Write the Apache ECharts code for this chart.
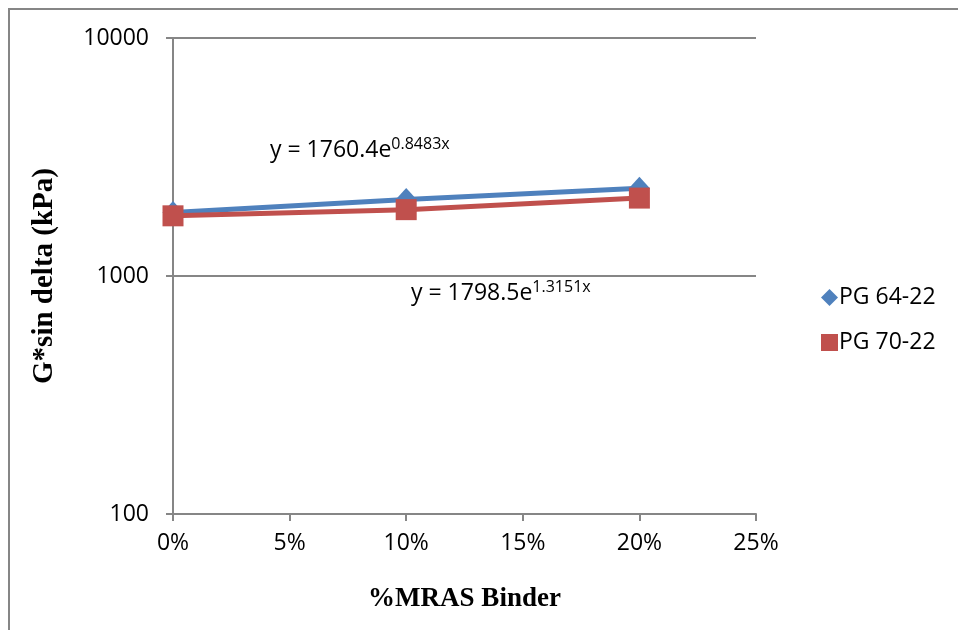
<!DOCTYPE html>
<html>
<head>
<meta charset="utf-8">
<script src="https://cdn.jsdelivr.net/npm/echarts@6/dist/echarts.min.js"></script>
<style>
  html, body { margin: 0; padding: 0; background: #fff; }
  #chart { width: 958px; height: 630px; }
</style>
</head>
<body>
<div id="chart"></div>
<script>
// %MRAS binder content (fraction) and G*sin delta values
const mrasShare = [0, 0.1, 0.2];
const pg6422 = [1850, 2095, 2335];
const pg7022 = [1790, 1900, 2125];
const seriesNames = ['PG 64-22', 'PG 70-22'];
const fitLabels = [
    {base: 'y = 1760.4e', exp: '0.8483x'},
    {base: 'y = 1798.5e', exp: '1.3151x'}
];

const gray = '#868686';
const labelFont = '"Open Sans", "Liberation Sans", sans-serif';
const titleFont = '"Liberation Serif", "DejaVu Serif", serif';

let myChart = echarts.init(document.getElementById('chart'));
myChart.setOption({
    animation: false,
    backgroundColor: '#fff',
    grid: {left: 173, right: 202, top: 38, bottom: 116},
    legend: {
        orient: 'vertical',
        left: 816,
        top: 281,
        itemGap: 22,
        itemWidth: 17,
        itemHeight: 17,
        textStyle: {fontFamily: labelFont, fontSize: 23, color: '#000', padding: [0, 0, 0, -4]},
        data: [
            {name: seriesNames[0], icon: 'diamond'},
            {name: seriesNames[1], icon: 'rect'}
        ]
    },
    xAxis: {
        type: 'value',
        min: 0,
        max: 0.25,
        interval: 0.05,
        name: '%MRAS Binder',
        nameLocation: 'middle',
        nameGap: 72,
        nameTextStyle: {fontFamily: titleFont, fontWeight: 'bold', fontSize: 27, color: '#000'},
        axisLine: {lineStyle: {color: gray, width: 2}},
        axisTick: {show: true, length: 7, lineStyle: {color: gray, width: 2}},
        axisLabel: {
            margin: 18,
            fontFamily: labelFont,
            fontSize: 23,
            color: '#000',
            formatter: function (v) { return Math.round(v * 100) + '%'; }
        },
        splitLine: {show: false}
    },
    yAxis: {
        type: 'log',
        logBase: 10,
        min: 100,
        max: 10000,
        name: 'G*sin delta (kPa)',
        nameLocation: 'middle',
        nameGap: 114,
        nameTextStyle: {fontFamily: titleFont, fontWeight: 'bold', fontSize: 29, color: '#000'},
        axisLine: {show: true, lineStyle: {color: gray, width: 2}},
        axisTick: {show: true, length: 7, lineStyle: {color: gray, width: 2}},
        minorTick: {show: false},
        axisLabel: {
            margin: 24,
            fontFamily: labelFont,
            fontSize: 23,
            color: '#000',
            formatter: function (v) { return String(Math.round(v)); }
        },
        splitLine: {show: true, lineStyle: {color: gray, width: 2}}
    },
    series: [
        {
            name: seriesNames[0],
            type: 'line',
            data: mrasShare.map((x, i) => [x, pg6422[i]]),
            symbol: 'diamond',
            symbolSize: [21, 23],
            lineStyle: {color: '#4F81BD', width: 5},
            itemStyle: {color: '#4F81BD'}
        },
        {
            name: seriesNames[1],
            type: 'line',
            data: mrasShare.map((x, i) => [x, pg7022[i]]),
            symbol: 'rect',
            symbolSize: 21,
            lineStyle: {color: '#C0504D', width: 5},
            itemStyle: {color: '#C0504D'}
        }
    ],
    graphic: [
        {
            type: 'rect',
            shape: {x: 9, y: 9, width: 1000, height: 700},
            style: {fill: 'none', stroke: gray, lineWidth: 2},
            silent: true
        },
        {
            type: 'text',
            left: 270,
            top: 136,
            style: {
                text: fitLabels[0].base + '{sup|' + fitLabels[0].exp + '}',
                fontFamily: labelFont,
                fontSize: 23,
                fill: '#000',
                rich: {sup: {fontFamily: labelFont, fontSize: 16, fill: '#000', verticalAlign: 'top', padding: [0, 0, 12, 0]}}
            }
        },
        {
            type: 'text',
            left: 411,
            top: 279,
            style: {
                text: fitLabels[1].base + '{sup|' + fitLabels[1].exp + '}',
                fontFamily: labelFont,
                fontSize: 23,
                fill: '#000',
                rich: {sup: {fontFamily: labelFont, fontSize: 16, fill: '#000', verticalAlign: 'top', padding: [0, 0, 12, 0]}}
            }
        }
    ]
});
</script>
</body>
</html>
